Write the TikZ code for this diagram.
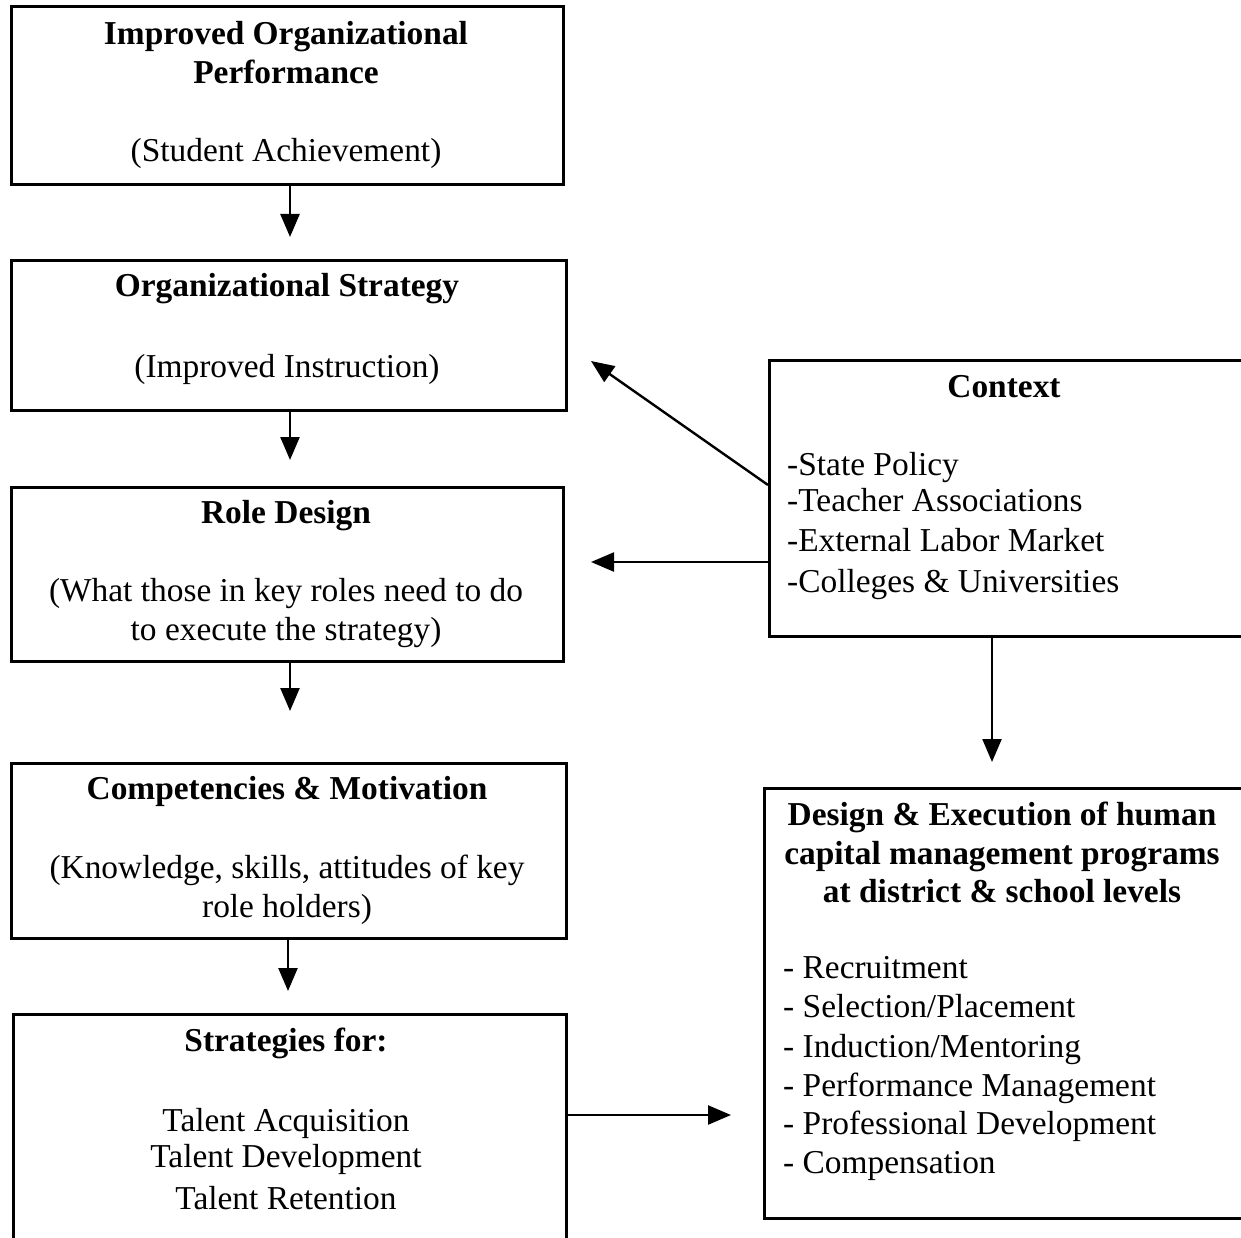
\documentclass[tikz,border=0pt]{standalone}
\usepackage{fontspec}
\setmainfont{Liberation Serif}
\usetikzlibrary{arrows.meta}
\begin{document}
\begin{tikzpicture}[x=1pt,y=-1pt,
  boxshape/.style={draw,line width=2.6pt,rectangle,anchor=north west,inner sep=0pt},
  txt/.style={anchor=base,inner sep=0pt,font=\fontsize{33.4}{40}\selectfont},
  btxt/.style={anchor=base,inner sep=0pt,font=\fontsize{33.4}{40}\selectfont\bfseries},
  ltxt/.style={anchor=base west,inner sep=0pt,font=\fontsize{33.4}{40}\selectfont},
  arr/.style={-{Triangle[length=23pt,width=19pt]},line width=2.4pt}]
\useasboundingbox (0,0) rectangle (1241,1238);

% boxes
\node[boxshape,minimum width=552pt,minimum height=178pt] (b1) at (10,5) {};
\node[boxshape,minimum width=555pt,minimum height=150pt] (b2) at (10,259) {};
\node[boxshape,minimum width=552pt,minimum height=174pt] (b3) at (10,486) {};
\node[boxshape,minimum width=555pt,minimum height=175pt] (b4) at (10,762) {};
\node[boxshape,minimum width=553pt,minimum height=240pt] (b5) at (12,1013) {};
\node[boxshape,minimum width=490pt,minimum height=276pt] (ctx) at (768,359) {};
\node[boxshape,minimum width=495pt,minimum height=430pt] (des) at (763,787) {};

% box 1
\node[btxt] (t1a) at (286,45) {Improved Organizational};
\node[btxt] (t1b) at (286,84) {Performance};
\node[txt] (t1c) at (286,162) {(Student Achievement)};
% box 2
\node[btxt] (t2a) at (287,297) {Organizational Strategy};
\node[txt] (t2b) at (287,377) {(Improved Instruction)};
% box 3
\node[btxt] (t3a) at (286,523) {Role Design};
\node[txt] (t3b) at (286,601) {(What those in key roles need to do};
\node[txt] (t3c) at (286,640) {to execute the strategy)};
% box 4
\node[btxt] (t4a) at (287,799) {Competencies \& Motivation};
\node[txt] (t4b) at (287,878) {(Knowledge, skills, attitudes of key};
\node[txt] (t4c) at (287,917) {role holders)};
% box 5
\node[btxt] (t5a) at (286,1051) {Strategies for:};
\node[txt] (t5b) at (286,1131) {Talent Acquisition};
\node[txt] (t5c) at (286,1167) {Talent Development};
\node[txt] (t5d) at (286,1209) {Talent Retention};
% context
\node[btxt] (tca) at (1004,397) {Context};
\node[ltxt] (tcb) at (787,475) {-State Policy};
\node[ltxt] (tcc) at (787,511) {-Teacher Associations};
\node[ltxt] (tcd) at (787,551) {-External Labor Market};
\node[ltxt] (tce) at (787,592) {-Colleges \& Universities};
% design
\node[btxt] (tda) at (1002,825) {Design \& Execution of human};
\node[btxt] (tdb) at (1002,864) {capital management programs};
\node[btxt] (tdc) at (1002,902) {at district \& school levels};
\node[ltxt] (tdd) at (783,978) {- Recruitment};
\node[ltxt] (tde) at (783,1017) {- Selection/Placement};
\node[ltxt] (tdf) at (783,1057) {- Induction/Mentoring};
\node[ltxt] (tdg) at (783,1096) {- Performance Management};
\node[ltxt] (tdh) at (783,1134) {- Professional Development};
\node[ltxt] (tdi) at (783,1173) {- Compensation};

% arrow end points
\coordinate (e1) at (290,237);
\coordinate (e2) at (290,460);
\coordinate (e3) at (290,711);
\coordinate (e4) at (288,991);
\coordinate (e5) at (992,762);
\coordinate (s6) at (768,485);
\coordinate (e6) at (591,361);
\coordinate (e7) at (591,562);
\coordinate (e8) at (731,1115);

\draw[arr] (b1.south -| e1) -- (e1);
\draw[arr] (b2.south -| e2) -- (e2);
\draw[arr] (b3.south -| e3) -- (e3);
\draw[arr] (b4.south -| e4) -- (e4);
\draw[arr] (ctx.south -| e5) -- (e5);
\draw[arr] (ctx.west |- s6) -- (e6);
\draw[arr] (ctx.west |- e7) -- (e7);
\draw[arr] (b5.east |- e8) -- (e8);
\end{tikzpicture}
\end{document}
